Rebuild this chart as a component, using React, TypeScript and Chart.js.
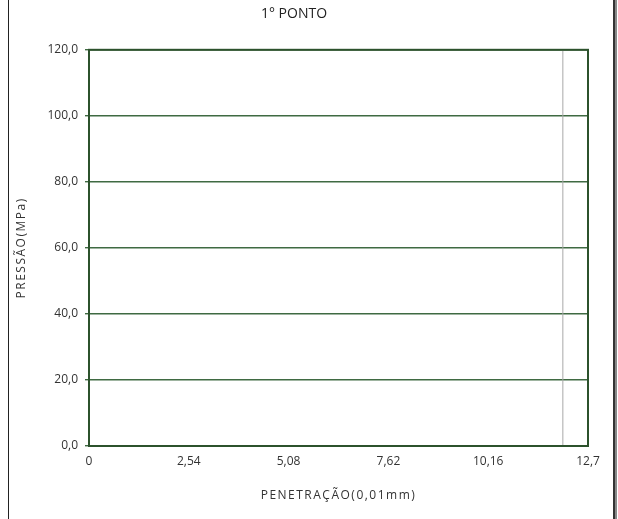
import React, { useEffect, useRef } from "react";
import { Chart, registerables } from "chart.js";

Chart.register(...registerables);

const chartTitle = "1° PONTO";
const xTitle = "PENETRAÇÃO(0,01mm)";
const yTitle = "PRESSÃO(MPa)";
const xTicks = [0, 2.54, 5.08, 7.62, 10.16, 12.7];
const xTickLabels = ["0", "2,54", "5,08", "7,62", "10,16", "12,7"];
const yTicks = [0, 20, 40, 60, 80, 100, 120];
const yTickLabels = ["0,0", "20,0", "40,0", "60,0", "80,0", "100,0", "120,0"];
const markerX = [12.06, 12.06];
const markerY = [0, 120];

const FONT = "'Open Sans', 'Noto Sans', sans-serif";
const GREEN = "#3f6a42";
const DARK_GREEN = "#2c522c";

const frameBorder = {
  id: "frameBorder",
  afterDraw(chart: any) {
    const { ctx, chartArea } = chart;
    ctx.save();
    ctx.strokeStyle = DARK_GREEN;
    ctx.lineWidth = 2;
    ctx.strokeRect(chartArea.left, chartArea.top, chartArea.right - chartArea.left, chartArea.bottom - chartArea.top);
    ctx.restore();
  },
};

const spacedTitle = (scale: any) => {
  if (scale._spacedPatched) return;
  const orig = scale.drawTitle.bind(scale);
  scale.drawTitle = (...args: any[]) => {
    const ctx = scale.ctx;
    ctx.save();
    ctx.letterSpacing = "1.5px";
    orig(...args);
    ctx.restore();
  };
  scale._spacedPatched = true;
};

export default function App() {
  const ref = useRef<HTMLCanvasElement | null>(null);
  useEffect(() => {
    if (!ref.current) return;
    const chart = new Chart(ref.current, {
      type: "scatter",
      data: {
        datasets: [
          {
            data: markerX.map((x, i) => ({ x, y: markerY[i] })),
            showLine: true,
            borderColor: "#a8a8a8",
            borderWidth: 1,
            pointRadius: 0,
          },
        ],
      },
      plugins: [frameBorder],
      options: {
        animation: false,
        responsive: false,
        layout: { padding: { top: 0, right: 30, bottom: 0, left: 0 } },
        plugins: {
          legend: { display: false },
          tooltip: { enabled: false },
          title: {
            display: true,
            text: chartTitle,
            color: "#222",
            font: { family: FONT, size: 14, weight: "normal" },
            padding: { top: 6, bottom: 27 },
          },
        },
        scales: {
          x: {
            type: "linear",
            min: 0,
            max: 12.7,
            afterBuildTicks: (scale: any) => {
              scale.ticks = xTicks.map((v) => ({ value: v }));
            },
            afterFit: (scale: any) => {
              scale.height = 73;
            },
            afterUpdate: spacedTitle,
            grid: { display: false, drawTicks: false },
            border: { display: true, color: DARK_GREEN, width: 2 },
            ticks: {
              color: "#333",
              font: { family: FONT, size: 12 },
              padding: 8,
              maxRotation: 0,
              autoSkip: false,
              callback: (v: any) => {
                const i = xTicks.findIndex((t) => Math.abs(t - Number(v)) < 1e-6);
                return i >= 0 ? xTickLabels[i] : "";
              },
            },
            title: {
              display: true,
              text: xTitle,
              color: "#333",
              font: { family: FONT, size: 12 },
              padding: { top: 0, bottom: 16 },
            },
          },
          y: {
            type: "linear",
            min: 0,
            max: 120,
            afterBuildTicks: (scale: any) => {
              scale.ticks = yTicks.map((v) => ({ value: v }));
            },
            afterFit: (scale: any) => {
              scale.width = 89;
            },
            afterUpdate: spacedTitle,
            grid: { color: GREEN, lineWidth: 1.4, tickLength: 4, tickColor: GREEN },
            border: { display: true, color: DARK_GREEN, width: 2 },
            ticks: {
              color: "#333",
              font: { family: FONT, size: 12 },
              padding: 7,
              autoSkip: false,
              callback: (v: any) => {
                const i = yTicks.indexOf(Number(v));
                return i >= 0 ? yTickLabels[i] : "";
              },
            },
            title: {
              display: true,
              text: yTitle,
              color: "#333",
              font: { family: FONT, size: 12 },
              padding: { top: 14, bottom: 0 },
            },
          },
        },
      },
    });
    return () => chart.destroy();
  }, []);

  return (
    <div style={{ position: "fixed", left: 0, top: 0, width: 618, height: 519, background: "#fff" }}>
      <canvas ref={ref} width={618} height={519} style={{ position: "absolute", left: 0, top: 0 }} />
      <div style={{ position: "absolute", left: 8, top: 0, width: 1, height: 519, background: "#222" }} />
      <div style={{ position: "absolute", left: 613, top: 0, width: 2, height: 519, background: "#333" }} />
      <div style={{ position: "absolute", left: 615, top: 0, width: 2, height: 519, background: "#888" }} />
    </div>
  );
}
